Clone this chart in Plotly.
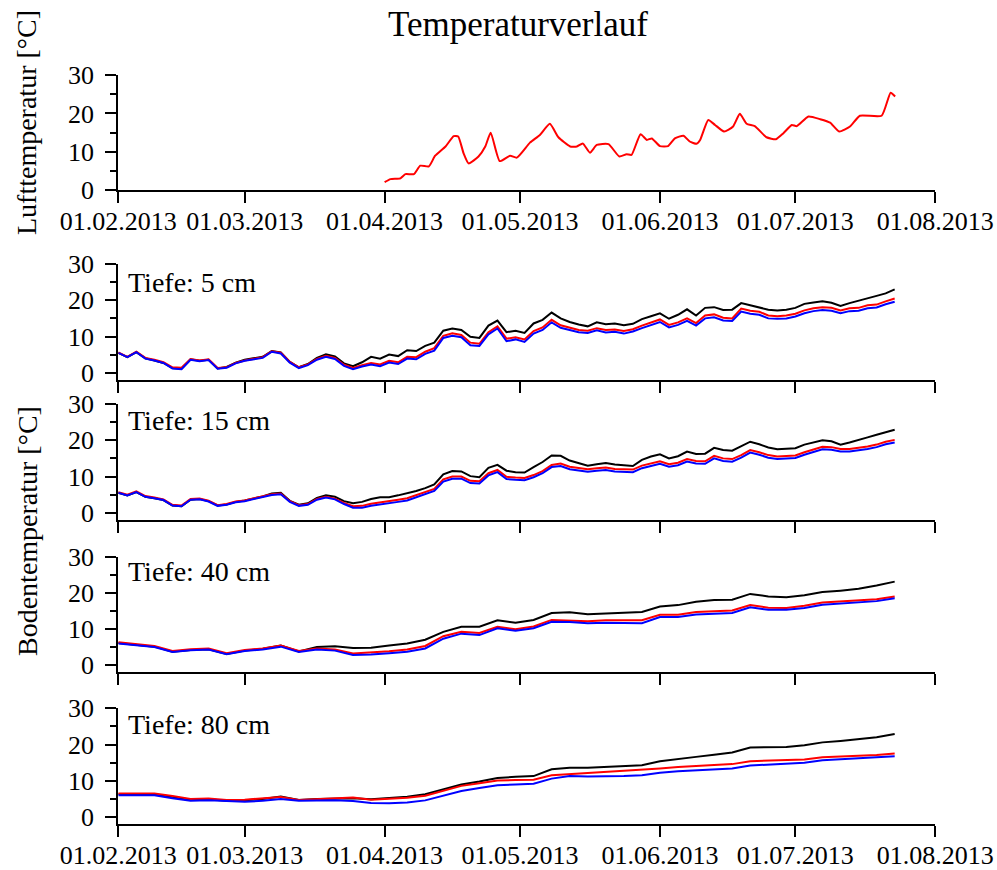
import pandas as pd
import plotly.graph_objects as go

START = pd.Timestamp("2013-02-01")

# Month ticks
tick_dates = ["2013-02-01", "2013-03-01", "2013-04-01", "2013-05-01",
              "2013-06-01", "2013-07-01", "2013-08-01"]
tick_labels = ["01.02.2013", "01.03.2013", "01.04.2013", "01.05.2013",
               "01.06.2013", "01.07.2013", "01.08.2013"]

# Air temperature (days after 01.02.2013, degC)
air_days = [59, 60.3, 62.5, 63.6, 65.5, 66.9, 68.8, 70.2, 72.5, 74.3, 75.3, 76.5,
            77.6, 79.8, 81.3, 82.5, 84.5, 86.8, 88.3, 91.2, 93.4, 95.6, 97.5, 100.1,
            101.6, 102.9, 104.5, 106, 108.6, 111, 112.6, 113.7, 115.7, 117.1, 118.2,
            120, 121.8, 123.3, 125.2, 126.6, 128.1, 128.9, 130.7, 132.2, 134.2, 136.2,
            137.7, 139.2, 141, 143.6, 145.7, 147.3, 149.2, 150.3, 152.9, 155.5, 157.7,
            159.7, 162.1, 164.3, 169.1, 171.1, 172.1]
air_temp = [2.1, 2.9, 3.1, 4.2, 4.2, 6.4, 6.2, 9.0, 11.4, 14.1, 14.0, 9.6, 7.0, 8.8,
            11.4, 15.0, 7.6, 9.0, 8.5, 12.4, 14.4, 17.3, 13.8, 11.4, 11.4, 12.2, 9.8,
            11.8, 12.0, 8.8, 9.4, 9.2, 14.6, 13.1, 13.5, 11.5, 11.5, 13.5, 14.2, 12.7,
            12.1, 13.1, 18.3, 17.0, 15.3, 16.6, 19.9, 17.3, 16.7, 13.8, 13.3, 14.8, 17.0,
            16.7, 19.2, 18.5, 17.6, 15.3, 16.6, 19.4, 19.4, 25.4, 24.4]

# Soil temperature, 5 cm and 15 cm: every 2 days from 01.02.2013
black_5 = [5.5, 4.3, 5.7, 4.0, 3.4, 2.7, 1.3, 1.1, 3.7, 3.3, 3.6, 1.2, 1.6, 2.8, 3.6,
           3.9, 4.4, 6.0, 5.6, 3.0, 1.5, 2.4, 4.1, 5.1, 4.5, 2.6, 1.8, 2.9, 4.4, 3.9,
           5.0, 4.6, 6.2, 6.0, 7.4, 8.3, 11.6, 12.2, 11.8, 9.9, 9.6, 13.0, 14.4, 11.2,
           11.6, 11.0, 13.6, 14.6, 16.6, 15.0, 14.0, 13.3, 12.8, 13.9, 13.4, 13.6, 13.1,
           13.5, 14.8, 15.6, 16.4, 14.9, 16.0, 17.5, 15.8, 17.9, 18.1, 17.3, 17.4, 19.2,
           18.6, 18.0, 17.4, 17.2, 17.4, 17.9, 19.0, 19.4, 19.7, 19.3, 18.4, 19.2, 19.8,
           20.5, 21.2, 21.9, 23.0]
red_5 = [5.6, 4.4, 5.8, 4.1, 3.6, 2.9, 1.5, 1.4, 3.8, 3.4, 3.7, 1.3, 1.5, 2.7, 3.4,
         3.8, 4.3, 5.9, 5.5, 3.0, 1.5, 2.3, 3.8, 4.7, 4.1, 2.2, 1.3, 2.1, 2.7, 2.3,
         3.3, 2.9, 4.4, 4.3, 5.8, 6.8, 10.2, 10.9, 10.4, 8.3, 8.0, 11.2, 12.8, 9.4,
         9.8, 9.2, 11.5, 12.5, 14.6, 13.1, 12.4, 11.8, 11.6, 12.3, 11.8, 11.9, 11.5,
         12.0, 13.0, 13.9, 14.7, 13.2, 13.9, 15.0, 13.7, 15.8, 16.1, 15.2, 15.0, 17.7,
         17.1, 16.8, 15.8, 15.6, 15.8, 16.3, 17.2, 17.8, 18.1, 17.9, 17.2, 17.8, 17.9,
         18.6, 18.8, 19.7, 20.5]
blue_5 = [5.5, 4.3, 5.7, 3.9, 3.4, 2.7, 1.2, 1.0, 3.6, 3.2, 3.5, 1.1, 1.4, 2.6, 3.3,
          3.7, 4.1, 5.8, 5.3, 2.8, 1.3, 2.1, 3.6, 4.4, 3.8, 1.9, 1.0, 1.7, 2.3, 1.8,
          2.8, 2.4, 3.9, 3.7, 5.2, 6.1, 9.6, 10.2, 9.8, 7.6, 7.4, 10.6, 12.2, 8.7,
          9.2, 8.5, 10.8, 11.8, 13.9, 12.4, 11.8, 11.2, 11.0, 11.7, 11.1, 11.3, 10.8,
          11.4, 12.3, 13.2, 14.0, 12.5, 13.2, 14.3, 13.0, 15.0, 15.3, 14.4, 14.3, 16.9,
          16.3, 16.0, 15.0, 14.9, 15.0, 15.5, 16.4, 17.0, 17.3, 17.1, 16.4, 17.0, 17.1,
          17.8, 18.0, 18.9, 19.6]

black_15 = [5.5, 4.8, 5.7, 4.4, 4.0, 3.5, 2.0, 1.8, 3.6, 3.8, 3.2, 2.0, 2.3, 3.0, 3.4,
            3.9, 4.5, 5.3, 5.5, 3.3, 2.2, 2.6, 4.1, 4.8, 4.4, 3.2, 2.6, 3.0, 3.8, 4.3,
            4.3, 4.8, 5.3, 6.0, 6.8, 7.8, 10.6, 11.5, 11.4, 10.1, 9.8, 12.4, 13.2, 11.6,
            11.2, 11.1, 12.6, 14.0, 15.8, 15.7, 14.4, 13.6, 13.0, 13.4, 13.7, 13.3, 13.0,
            12.9, 14.6, 15.5, 16.1, 15.0, 15.6, 16.9, 16.2, 16.3, 17.9, 17.3, 17.1, 18.3,
            19.6, 18.9, 18.0, 17.5, 17.6, 17.8, 18.8, 19.5, 20.0, 19.7, 18.8, 19.4, 20.2,
            20.8, 21.5, 22.3, 22.9]
red_15 = [5.7, 5.0, 5.9, 4.6, 4.2, 3.7, 2.2, 2.0, 3.8, 3.9, 3.3, 2.1, 2.4, 3.1, 3.4,
          3.9, 4.4, 5.1, 5.3, 3.2, 2.1, 2.4, 3.8, 4.4, 3.9, 2.7, 1.8, 1.9, 2.5, 2.8,
          3.2, 3.6, 4.0, 4.8, 5.6, 6.6, 9.2, 10.0, 10.0, 8.8, 8.7, 10.9, 11.8, 9.9,
          9.7, 9.6, 10.4, 11.5, 13.2, 13.6, 12.7, 12.3, 12.0, 12.3, 12.5, 12.1, 12.0,
          11.9, 13.0, 13.7, 14.2, 13.4, 13.8, 14.8, 14.3, 14.2, 15.7, 15.0, 14.8, 15.9,
          17.3, 16.7, 15.9, 15.5, 15.6, 15.8, 16.7, 17.4, 18.2, 18.1, 17.6, 17.6, 17.9,
          18.3, 18.8, 19.6, 20.1]
blue_15 = [5.5, 4.8, 5.7, 4.4, 4.0, 3.5, 2.0, 1.8, 3.6, 3.7, 3.1, 1.9, 2.2, 2.9, 3.2,
           3.7, 4.2, 4.9, 5.1, 3.0, 1.9, 2.2, 3.6, 4.2, 3.7, 2.4, 1.4, 1.4, 1.9, 2.2,
           2.6, 3.0, 3.4, 4.2, 5.0, 6.0, 8.6, 9.4, 9.4, 8.2, 8.1, 10.3, 11.2, 9.3,
           9.1, 9.0, 9.8, 10.9, 12.6, 12.9, 12.0, 11.6, 11.3, 11.6, 11.8, 11.4, 11.3,
           11.2, 12.3, 13.0, 13.5, 12.7, 13.1, 14.1, 13.6, 13.5, 15.0, 14.3, 14.1, 15.2,
           16.6, 16.0, 15.2, 14.8, 14.9, 15.1, 16.0, 16.7, 17.5, 17.4, 16.9, 16.9, 17.2,
           17.6, 18.1, 18.9, 19.4]

# Soil temperature, 40 cm and 80 cm: every 4 days from 01.02.2013
black_40 = [6.1, 5.6, 5.1, 3.7, 4.2, 4.4, 3.1, 4.0, 4.5, 5.4, 3.8, 5.0, 5.2, 4.7, 4.8,
            5.4, 6.0, 7.0, 9.2, 10.6, 10.6, 12.4, 11.7, 12.5, 14.4, 14.6, 14.1, 14.3,
            14.6, 14.7, 16.2, 16.6, 17.5, 18.0, 18.1, 19.7, 19.0, 18.8, 19.3, 20.2, 20.6,
            21.1, 22.0, 23.1]
red_40 = [6.3, 5.8, 5.3, 3.9, 4.4, 4.6, 3.3, 4.2, 4.6, 5.4, 3.9, 4.6, 4.3, 3.2, 3.4,
          3.8, 4.3, 5.3, 8.0, 9.2, 8.9, 10.6, 9.9, 10.7, 12.5, 12.4, 12.1, 12.4, 12.4,
          12.4, 13.9, 13.9, 14.7, 15.0, 15.1, 16.6, 15.9, 15.8, 16.4, 17.3, 17.6, 17.7,
          18.2, 19.0]
blue_40 = [6.0, 5.5, 5.0, 3.6, 4.1, 4.3, 3.0, 3.9, 4.3, 5.1, 3.6, 4.3, 4.0, 2.8, 2.9,
           3.3, 3.7, 4.6, 7.3, 8.7, 8.3, 10.2, 9.5, 10.2, 12.0, 11.9, 11.6, 11.7, 11.6,
           11.6, 13.3, 13.3, 14.0, 14.3, 14.4, 16.0, 15.3, 15.3, 15.8, 16.7, 17.0, 17.2,
           17.7, 18.5]

black_80 = [6.3, 6.3, 6.3, 5.6, 4.8, 4.9, 4.5, 4.6, 5.0, 5.7, 4.7, 5.0, 5.2, 5.2, 4.9,
            5.2, 5.6, 6.3, 7.6, 9.0, 9.8, 10.8, 11.1, 11.3, 13.2, 13.6, 13.6, 13.9, 14.1,
            14.3, 15.4, 16.1, 16.6, 17.2, 17.8, 19.2, 19.2, 19.3, 19.8, 20.6, 21.0, 21.4,
            22.0, 22.9]
red_80 = [6.5, 6.5, 6.5, 5.8, 5.0, 5.1, 4.7, 4.8, 5.1, 5.5, 4.7, 5.0, 5.3, 5.4, 4.8,
          5.0, 5.3, 5.9, 7.2, 8.6, 9.3, 10.1, 10.2, 10.3, 11.5, 11.8, 12.0, 12.5, 12.7,
          12.9, 13.4, 13.8, 14.0, 14.2, 14.6, 15.4, 15.5, 15.6, 15.9, 16.5, 16.7, 16.8,
          17.1, 17.5]
blue_80 = [6.0, 6.0, 6.0, 5.2, 4.5, 4.6, 4.3, 4.2, 4.5, 5.0, 4.5, 4.6, 4.6, 4.4, 3.9,
           3.8, 4.0, 4.6, 5.9, 7.2, 8.0, 8.8, 9.0, 9.2, 10.6, 11.3, 11.2, 11.2, 11.3,
           11.5, 12.2, 12.6, 12.8, 13.1, 13.4, 14.2, 14.5, 14.7, 15.0, 15.7, 16.0, 16.2,
           16.4, 16.8]

depth_labels = ["Tiefe: 5 cm", "Tiefe: 15 cm", "Tiefe: 40 cm", "Tiefe: 80 cm"]

# ---------------------------------------------------------------- geometry
W, H = 997, 870
FONT = "Liberation Serif"
X_DOM = [118.3 / W, 935.3 / W]
# (top pixel, bottom pixel) of each panel
panel_px = [(75.0, 190.3), (264.0, 380.0), (404.0, 520.0), (556.7, 672.3), (708.3, 824.3)]
y_ranges = [[0, 30], [-2, 30], [-2, 30], [-2, 30], [-2, 30]]


def py(p):
    return 1 - p / H


grid2 = pd.date_range(START, periods=len(blue_5), freq="2D")
grid4 = pd.date_range(START, periods=len(blue_40), freq="4D")
air_dates = [START + pd.Timedelta(days=d) for d in air_days]

fig = go.Figure()

line_w = 2
fig.add_trace(go.Scatter(x=air_dates, y=air_temp, mode="lines",
                         line=dict(color="#ff0000", width=line_w, shape="spline",
                                   smoothing=0.5),
                         xaxis="x", yaxis="y", showlegend=False))

soil = [
    (grid2, black_5, red_5, blue_5),
    (grid2, black_15, red_15, blue_15),
    (grid4, black_40, red_40, blue_40),
    (grid4, black_80, red_80, blue_80),
]
for i, (g, bk, rd, bl) in enumerate(soil, start=2):
    for vals, col in ((bk, "#000000"), (rd, "#ff0000"), (bl, "#0000ff")):
        fig.add_trace(go.Scatter(x=g, y=vals, mode="lines",
                                 line=dict(color=col, width=line_w),
                                 xaxis=f"x{i}", yaxis=f"y{i}", showlegend=False))

layout = dict(
    width=W, height=H, autosize=False,
    margin=dict(l=0, r=0, t=0, b=0, pad=0),
    paper_bgcolor="white", plot_bgcolor="white",
    font=dict(family=FONT, size=26, color="black"),
    showlegend=False,
)

for k in range(5):
    n = "" if k == 0 else str(k + 1)
    top, bot = panel_px[k]
    show_lbl = k in (0, 4)
    layout[f"xaxis{n}"] = dict(
        domain=X_DOM, anchor=f"y{n}", type="date",
        range=["2013-02-01", "2013-08-01"],
        tickmode="array", tickvals=tick_dates, ticktext=tick_labels,
        showticklabels=show_lbl, ticks="outside", ticklen=11, tickwidth=2,
        tickcolor="black", showline=True, linewidth=2, linecolor="black",
        showgrid=False, zeroline=False, automargin=False,
        tickfont=dict(family=FONT, size=26, color="black"),
        ticklabelstandoff=-5,
    )
    layout[f"yaxis{n}"] = dict(
        domain=[py(bot), py(top)], anchor=f"x{n}", range=y_ranges[k],
        tickmode="array", tickvals=[0, 10, 20, 30],
        ticks="outside", ticklen=11, tickwidth=2, tickcolor="black",
        minor=dict(tickmode="array", tickvals=[5, 15, 25], ticks="outside",
                   ticklen=6, tickwidth=2, tickcolor="black", showgrid=False),
        showline=True, linewidth=2, linecolor="black",
        showgrid=False, zeroline=False, automargin=False,
        tickfont=dict(family=FONT, size=26, color="black"),
        ticklabelstandoff=6,
    )

annotations = [
    dict(text="Temperaturverlauf", x=518 / W, y=py(24), xref="paper", yref="paper",
         xanchor="center", yanchor="middle", showarrow=False,
         font=dict(family=FONT, size=35, color="black")),
    dict(text="Lufttemperatur [°C]", x=27 / W, y=py(123), xref="paper", yref="paper",
         xanchor="center", yanchor="middle", textangle=-90, showarrow=False,
         font=dict(family=FONT, size=28, color="black")),
    dict(text="Bodentemperatur [°C]", x=27 / W, y=py(531), xref="paper", yref="paper",
         xanchor="center", yanchor="middle", textangle=-90, showarrow=False,
         font=dict(family=FONT, size=28, color="black")),
]
depth_y = [283, 420, 571, 724]
for lbl, yc in zip(depth_labels, depth_y):
    annotations.append(dict(text=lbl, x=126 / W, y=py(yc), xref="paper", yref="paper",
                            xanchor="left", yanchor="middle", showarrow=False,
                            font=dict(family=FONT, size=28, color="black")))
layout["annotations"] = annotations

fig.update_layout(**layout)
fig.write_html("out.html")
